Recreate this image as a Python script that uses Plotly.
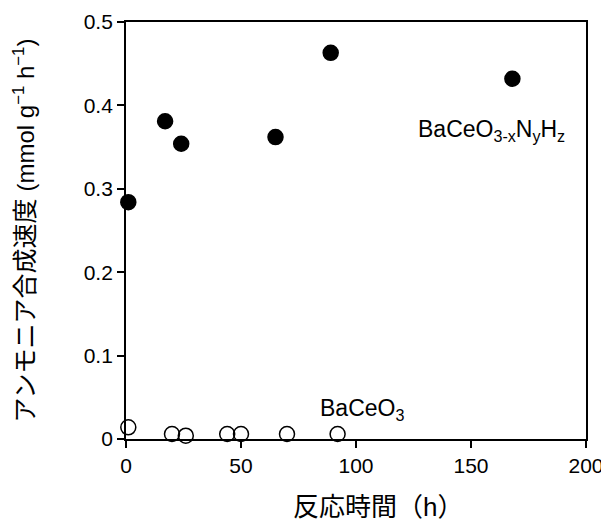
import plotly.graph_objects as go

# Data
nh_time = [1, 17, 24, 65, 89, 168]
nh_rate = [0.284, 0.381, 0.354, 0.362, 0.463, 0.432]
o_time = [1, 20, 26, 44, 50, 70, 92]
o_rate = [0.014, 0.006, 0.004, 0.006, 0.006, 0.006, 0.006]
x_ticks = [0, 50, 100, 150, 200]
y_ticks = [0, 0.1, 0.2, 0.3, 0.4, 0.5]
y_tick_text = ["0", "0.1", "0.2", "0.3", "0.4", "0.5"]

FONT = "Liberation Sans, Arial, Noto Sans CJK JP, sans-serif"

fig = go.Figure()
fig.add_trace(go.Scatter(
    x=nh_time, y=nh_rate, mode="markers", name="BaCeO3-xNyHz",
    marker=dict(symbol="circle", size=15, color="black",
                line=dict(color="black", width=1.5)),
    cliponaxis=False, showlegend=False))
fig.add_trace(go.Scatter(
    x=o_time, y=o_rate, mode="markers", name="BaCeO3",
    marker=dict(symbol="circle-open", size=15, color="black",
                line=dict(color="black", width=1.5)),
    cliponaxis=False, showlegend=False))

fig.add_annotation(x=102.4, y=0.035, xref="x", yref="y",
                   text="BaCeO<sub>3</sub>", showarrow=False,
                   font=dict(family=FONT, size=23, color="black"))
fig.add_annotation(x=159.1, y=0.370, xref="x", yref="y",
                   text="BaCeO<sub>3-x</sub>N<sub>y</sub>H<sub>z</sub>", showarrow=False,
                   font=dict(family=FONT, size=23, color="black"))

# x-axis title
fig.add_annotation(x=0.359, y=-0.163, xref="paper", yref="paper",
                   xanchor="left", yanchor="middle",
                   text="反応時間（h）", showarrow=False,
                   font=dict(family=FONT, size=26, color="black"))

axis_common = dict(showline=True, linecolor="black", linewidth=1.8, mirror=True,
                   ticks="outside", ticklen=7, tickwidth=1.5, tickcolor="black",
                   showgrid=False, zeroline=False, automargin=False,
                   tickfont=dict(family=FONT, size=21, color="black"))

fig.update_xaxes(range=[0, 200], tickvals=x_ticks, **axis_common)
fig.update_yaxes(range=[0, 0.5], tickvals=y_ticks, ticktext=y_tick_text,
                 title=dict(text="アンモニア合成速度 <span style=\"font-size:24px\">(mmol g<sup>−1</sup> h<sup>−1</sup>)</span>",
                            standoff=42,
                            font=dict(family=FONT, size=25, color="black")),
                 **axis_common)

# page body has an 8px margin, so the figure is sized/offset to compensate
fig.update_layout(width=601, height=513,
                  margin=dict(l=118, r=23, t=14, b=82),
                  plot_bgcolor="white", paper_bgcolor="white",
                  font=dict(family=FONT, color="black"))

fig.write_html("out.html")
